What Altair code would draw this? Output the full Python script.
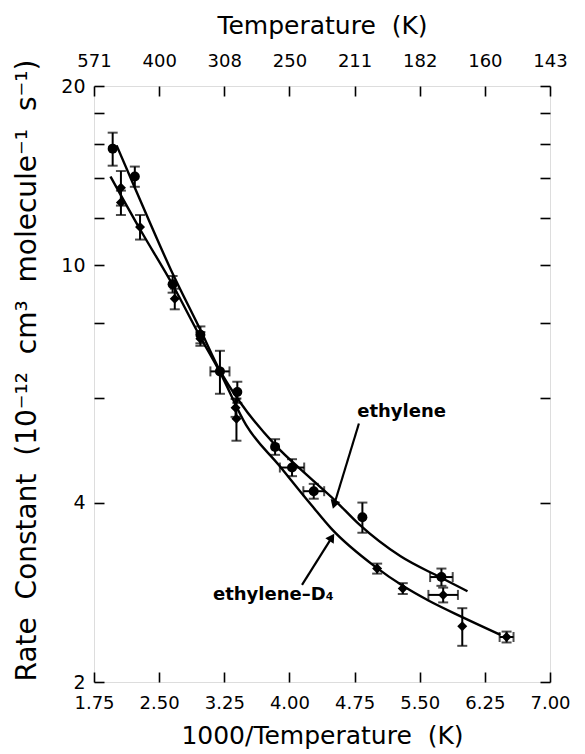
import altair as alt
import pandas as pd

# ---- measured points (1000/T, k in 1e-12 cm3 molecule-1 s-1) ----
eth_x = [1.965, 2.22, 2.655, 2.975, 3.20, 3.40, 3.835, 4.03, 4.28, 4.84, 5.75]
eth_k = [15.7, 14.1, 9.3, 7.65, 6.64, 6.13, 4.96, 4.58, 4.18, 3.78, 3.00]
eth_kerr = [1.0, 0.55, 0.3, 0.25, 0.55, 0.25, 0.15, 0.15, 0.12, 0.22, 0.1]
eth_xerr = [0, 0, 0, 0, 0.11, 0, 0, 0.14, 0.12, 0, 0.13]

d4_x = [2.06, 2.06, 2.28, 2.68, 2.975, 3.38, 3.39, 5.01, 5.305, 5.77, 5.99, 6.50]
d4_k = [13.5, 12.75, 11.6, 8.79, 7.53, 5.77, 5.53, 3.10, 2.87, 2.80, 2.48, 2.38]
d4_kerr = [0.9, 0.6, 0.55, 0.35, 0.2, 0.2, 0.45, 0.06, 0.06, 0.08, 0.18, 0.05]
d4_xerr = [0, 0, 0, 0, 0, 0, 0, 0, 0, 0.17, 0, 0.08]

# ---- fitted curves ----
eth_cx = [2.01, 2.22, 2.64, 2.98, 3.20, 3.43, 3.84, 4.20, 4.52, 4.80, 5.28, 5.73, 6.05]
eth_ck = [15.9, 13.5, 9.8, 7.77, 6.66, 5.90, 4.99, 4.45, 4.04, 3.68, 3.25, 3.00, 2.84]
d4_cx = [1.94, 2.28, 2.655, 2.975, 3.20, 3.50, 3.88, 4.26, 4.48, 4.99, 5.305, 5.60, 5.99, 6.43]
d4_ck = [14.1, 11.5, 9.28, 7.58, 6.62, 5.40, 4.62, 3.95, 3.62, 3.12, 2.90, 2.74, 2.57, 2.40]

# ---- axes ----
x_ticks = [1.75, 2.50, 3.25, 4.00, 4.75, 5.50, 6.25, 7.00]
top_labels = ["571", "400", "308", "250", "211", "182", "160", "143"]
y_ticks = [2, 4, 6, 8, 10, 12, 14, 16, 18, 20]
y_labels = [2, 4, 10, 20]

# ---- annotations ----
ann_text = ["ethylene", "ethylene\u2013D\u2084"]
ann_x = [4.78, 3.12]
ann_k = [5.67, 2.80]
arr_x0 = [4.80, 4.145]
arr_k0 = [5.43, 2.91]
arr_x1 = [4.52, 4.48]
arr_k1 = [3.99, 3.48]
arr_angle = [197, 33]

FONT = "DejaVu Sans"
W, H = 456, 596
SP = "\u00a0\u00a0"

xscale = alt.Scale(domain=[1.75, 7.0], nice=False, zero=False)
yscale = alt.Scale(type="log", domain=[2, 20], nice=False)


def X(f, axis=None):
    return alt.X(f, type="quantitative", scale=xscale, axis=axis)


def Y(f, axis=None):
    return alt.Y(f, type="quantitative", scale=yscale, axis=axis)


pts = pd.DataFrame({
    "x": eth_x + d4_x,
    "k": eth_k + d4_k,
    "kerr": eth_kerr + d4_kerr,
    "xerr": eth_xerr + d4_xerr,
    "s": ["ethylene"] * len(eth_x) + ["d4"] * len(d4_x),
})
pts["klo"] = pts["k"] - pts["kerr"]
pts["khi"] = pts["k"] + pts["kerr"]
pts["xlo"] = pts["x"] - pts["xerr"]
pts["xhi"] = pts["x"] + pts["xerr"]

ycaps = pd.concat([
    pd.DataFrame({"x": pts["x"], "k": pts["klo"]}),
    pd.DataFrame({"x": pts["x"], "k": pts["khi"]}),
])
xe = pts[pts["xerr"] > 0]
xcaps = pd.concat([
    pd.DataFrame({"x": xe["xlo"], "k": xe["k"]}),
    pd.DataFrame({"x": xe["xhi"], "k": xe["k"]}),
])

curves = pd.concat([
    pd.DataFrame({"x": eth_cx, "k": eth_ck, "s": "ethylene"}),
    pd.DataFrame({"x": d4_cx, "k": d4_ck, "s": "d4"}),
])

ann = pd.DataFrame({"t": ann_text, "x": ann_x, "k": ann_k})
arrows = pd.concat([
    pd.DataFrame({"x": arr_x0, "k": arr_k0, "id": [0, 1]}),
    pd.DataFrame({"x": arr_x1, "k": arr_k1, "id": [0, 1]}),
])
heads = pd.DataFrame({"x": arr_x1, "k": arr_k1, "a": arr_angle})

tick_df = pd.DataFrame({"x": [x_ticks[0]] * len(y_ticks), "k": y_ticks})

lab_list = ",".join(str(v) for v in y_labels)
top_map = ",".join("'" + t + "'" for t in top_labels)
top_keys = ",".join(str(int(round(v * 100))) for v in x_ticks)

axis_common = dict(domain=False, grid=False, tickColor="black", tickWidth=1.6,
                   tickSize=10, offset=-10, labelFont=FONT, labelColor="black",
                   titleFont=FONT, titleColor="black", titleFontWeight="normal")

bottom_axis = alt.Axis(orient="bottom", values=x_ticks, format=".2f",
                       title="1000/Temperature" + SP + "(K)", labelFontSize=18,
                       labelPadding=12, titleFontSize=25, titlePadding=11,
                       labelFlush=False, labelOverlap=False, **axis_common)
top_axis = alt.Axis(orient="top", values=x_ticks,
                    labelExpr="[" + top_map + "][indexof([" + top_keys + "], round(datum.value*100))]",
                    title="Temperature" + SP + "(K)", labelFontSize=18, labelPadding=16,
                    titleFontSize=25, titlePadding=14,
                    labelFlush=False, labelOverlap=False, **axis_common)
left_axis = alt.Axis(orient="left", values=y_ticks,
                     labelExpr="indexof([" + lab_list + "], datum.value) >= 0 ? datum.label : ''",
                     title=SP.join(["Rate", "Constant", "(10\u207b\u00b9\u00b2", "cm\u00b3",
                                    "molecule\u207b\u00b9", "s\u207b\u00b9)"]),
                     labelFontSize=19, labelPadding=9, titleFontSize=28, titlePadding=19,
                     titleY=284,
                     labelOverlap=False, labelFlush=False, **axis_common)
right_axis = alt.Axis(orient="right", values=y_ticks, labels=False, title=None,
                      **axis_common)

axes1 = alt.Chart(tick_df).mark_point(opacity=0).encode(
    x=X("x", bottom_axis), y=Y("k", left_axis))
axes2 = alt.Chart(tick_df).mark_point(opacity=0).encode(
    x=X("x", top_axis), y=Y("k", right_axis))

lines = alt.Chart(curves).mark_line(color="black", strokeWidth=2.4,
                                    interpolate="monotone").encode(
    x=X("x"), y=Y("k"), detail="s:N")

yerr = alt.Chart(pts).mark_rule(color="black", strokeWidth=2).encode(
    x=X("x"), y=Y("klo"), y2="khi")
ycap = alt.Chart(ycaps).mark_tick(color="black", orient="horizontal",
                                  size=10, thickness=2).encode(x=X("x"), y=Y("k"))
xerr = alt.Chart(xe).mark_rule(color="black", strokeWidth=2).encode(
    x=X("xlo"), x2="xhi", y=Y("k"))
xcap = alt.Chart(xcaps).mark_tick(color="black", orient="vertical",
                                  size=10, thickness=2).encode(x=X("x"), y=Y("k"))

points = alt.Chart(pts).mark_point(filled=True, color="black", opacity=1,
                                   size=100).encode(
    x=X("x"), y=Y("k"),
    shape=alt.Shape("s:N", scale=alt.Scale(domain=["ethylene", "d4"],
                                           range=["circle", "diamond"]),
                    legend=None))

texts = alt.Chart(ann).mark_text(font=FONT, fontSize=18, fontWeight="bold",
                                 align="left", baseline="middle",
                                 color="black").encode(
    x=X("x"), y=Y("k"), text="t:N")

arr_lines = alt.Chart(arrows).mark_line(color="black", strokeWidth=2.2).encode(
    x=X("x"), y=Y("k"), detail="id:N")
arr_heads = alt.Chart(heads).mark_point(shape="triangle", filled=True,
                                        color="black", opacity=1,
                                        size=100).encode(
    x=X("x"), y=Y("k"), angle=alt.Angle("a:Q", scale=None))

chart = alt.layer(
    axes1, axes2, lines, yerr, ycap, xerr, xcap, points, texts, arr_lines, arr_heads
).resolve_axis(x="independent", y="independent").properties(
    width=W, height=H
).configure_view(stroke="black", strokeWidth=2.4).configure(
    background="white"
)

chart.save("out.html", embed_options={"renderer": "svg", "actions": False})
